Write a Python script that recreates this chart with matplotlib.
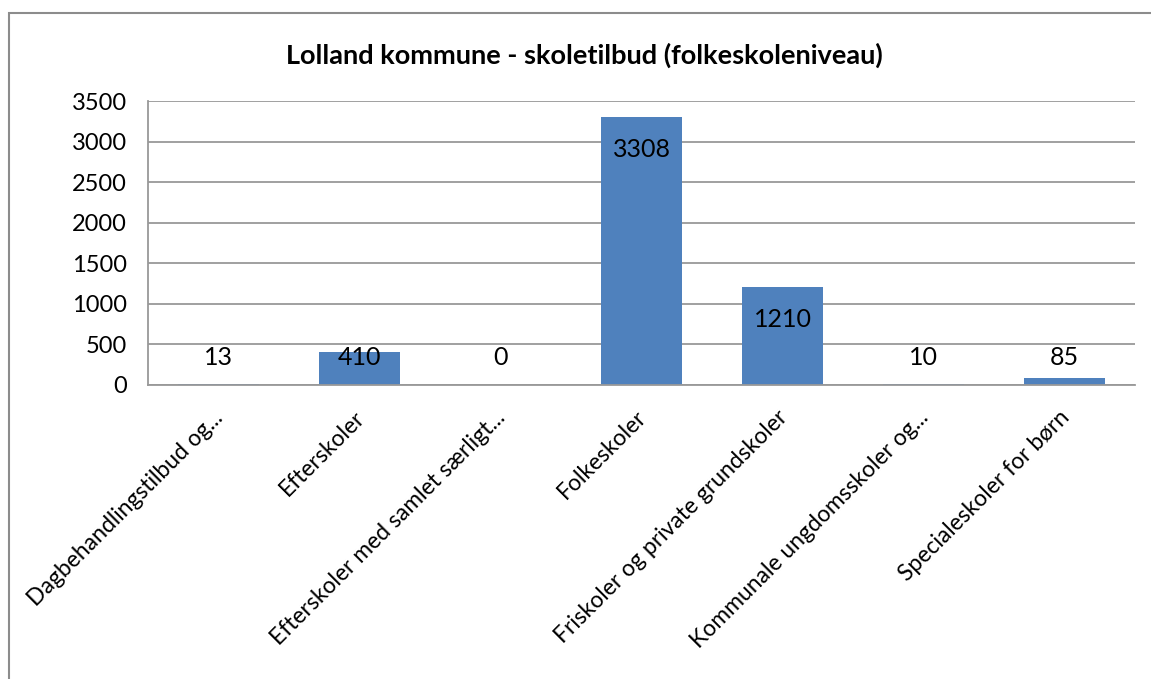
import numpy as np
import matplotlib.pyplot as plt
from matplotlib.patches import Rectangle
import matplotlib.transforms as mtransforms

categories = ['Dagbehandlingstilbud og...', 'Efterskoler', 'Efterskoler med samlet særligt...',
              'Folkeskoler', 'Friskoler og private grundskoler', 'Kommunale ungdomsskoler og...',
              'Specialeskoler for børn']
values = [13, 410, 0, 3308, 1210, 10, 85]

plt.rcParams['font.family'] = ['Lato', 'DejaVu Sans']
bar_color = '#4F81BD'
grid_color = '#999999'

fig = plt.figure(figsize=(11.51, 6.79), dpi=100)
ax = fig.add_axes([0.1286, 0.433, 0.8575, 0.418])

x = np.arange(len(categories))
ax.bar(x, values, width=0.57, color=bar_color, zorder=2)

# labels inside end, but never below a minimum height (like Excel)
for xi, v in zip(x, values):
    ypos = max(v - 400, 340)
    ax.text(xi, ypos, str(v), ha='center', va='center', fontsize=18, color='black', zorder=3)

ax.set_xlim(-0.5, len(categories) - 0.5)
ax.set_ylim(0, 3500)
ax.set_yticks(np.arange(0, 3501, 500))
ax.yaxis.grid(True, color=grid_color, linewidth=1.3)
ax.set_axisbelow(True)
ax.tick_params(axis='y', length=0, labelsize=17, pad=15)
ax.tick_params(axis='x', length=0, pad=21)
ax.set_xticks(x)
ax.set_xticklabels(categories, rotation=45, ha='right', va='center', rotation_mode='anchor', fontsize=16.5)
shift = mtransforms.ScaledTranslation(1 / 72, 0, fig.dpi_scale_trans)
for lbl in ax.get_xticklabels():
    lbl.set_transform(lbl.get_transform() + shift)

for s in ['top', 'right']:
    ax.spines[s].set_visible(False)
ax.spines['left'].set_color(grid_color)
ax.spines['bottom'].set_color(grid_color)
ax.spines['left'].set_linewidth(1.3)
ax.spines['bottom'].set_linewidth(1.3)

fig.text(0.508, 0.918, 'Lolland kommune - skoletilbud (folkeskoleniveau)', ha='center', va='center',
         fontsize=19.5, fontweight='bold')

# outer chart frame
fig.patches.append(Rectangle((9 / 1151, -0.05), 1.2, 1.05 - 13 / 679, transform=fig.transFigure,
                             fill=False, edgecolor='#8c8c8c', linewidth=1.5))

fig.savefig('out.png', dpi=100)
